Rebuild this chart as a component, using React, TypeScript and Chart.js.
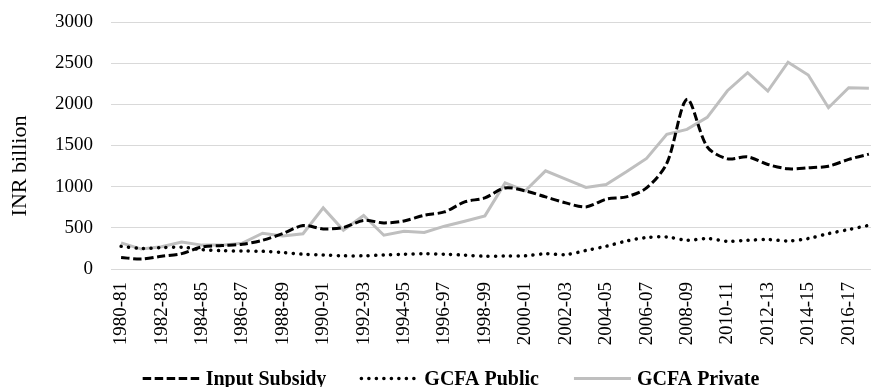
import { useEffect, useRef } from 'react';
import { Chart, registerables } from 'chart.js';

Chart.register(...registerables);

const FONT = "'Liberation Serif', 'Times New Roman', serif";

const categories = [
  '1980-81', '1981-82', '1982-83', '1983-84', '1984-85', '1985-86', '1986-87', '1987-88',
  '1988-89', '1989-90', '1990-91', '1991-92', '1992-93', '1993-94', '1994-95', '1995-96',
  '1996-97', '1997-98', '1998-99', '1999-00', '2000-01', '2001-02', '2002-03', '2003-04',
  '2004-05', '2005-06', '2006-07', '2007-08', '2008-09', '2009-10', '2010-11', '2011-12',
  '2012-13', '2013-14', '2014-15', '2015-16', '2016-17', '2017-18',
];

const inputSubsidy = [
  139, 122, 155, 187, 268, 285, 300, 349, 430, 528, 487, 504, 590, 560, 584, 653, 693, 815, 864,
  985, 949, 876, 803, 754, 848, 876, 985, 1282, 2061, 1484, 1338, 1362, 1270, 1217, 1229, 1249,
  1331, 1395,
];

const gcfaPublic = [
  275, 250, 260, 265, 235, 222, 218, 215, 200, 180, 170, 160, 160, 170, 180, 185, 180, 168, 155,
  158, 160, 185, 175, 225, 276, 340, 382, 389, 349, 370, 337, 349, 358, 341, 370, 430, 479, 530,
];

const gcfaPrivate = [
  318, 242, 270, 328, 290, 290, 314, 434, 400, 428, 742, 470, 650, 410, 459, 443, 520, 580, 645,
  1046, 949, 1192, 1091, 990, 1027, 1180, 1343, 1635, 1696, 1842, 2165, 2384, 2162, 2511, 2356,
  1959, 2202, 2195,
];

const seriesNames = ['Input Subsidy', 'GCFA Public', 'GCFA Private'];
const yAxisTitle = 'INR billion';
const yMin = 0;
const yMax = 3000;
const yStep = 500;

const overlayPlugin = {
  id: 'overlayLegendTitle',
  afterDraw(chart: any) {
    const ctx = chart.ctx as CanvasRenderingContext2D;
    ctx.save();
    ctx.font = `bold 20px ${FONT}`;
    const lineLen = 57;
    const gap = 6;
    const spacing = 35;
    const items = chart.data.datasets.map((ds: any) => ({
      ds,
      w: lineLen + gap + ctx.measureText(ds.label).width,
    }));
    const total =
      items.reduce((s: number, it: any) => s + it.w, 0) + spacing * (items.length - 1);
    let x = 451 - total / 2;
    const lineY = 378.5;
    const textY = 384.5;
    items.forEach(({ ds, w }: any) => {
      ctx.beginPath();
      ctx.setLineDash(ds.borderDash || []);
      ctx.lineCap = ds.borderCapStyle || 'butt';
      ctx.lineWidth = ds.borderWidth;
      ctx.strokeStyle = ds.borderColor;
      ctx.moveTo(x, lineY);
      ctx.lineTo(x + lineLen, lineY);
      ctx.stroke();
      ctx.setLineDash([]);
      ctx.fillStyle = '#000';
      ctx.textAlign = 'left';
      ctx.textBaseline = 'alphabetic';
      ctx.fillText(ds.label, x + lineLen + gap, textY);
      x += w + spacing;
    });
    ctx.font = `22px ${FONT}`;
    ctx.translate(20, 166);
    ctx.rotate(-Math.PI / 2);
    ctx.textAlign = 'center';
    ctx.textBaseline = 'middle';
    ctx.fillStyle = '#000';
    ctx.fillText(yAxisTitle, 0, 0);
    ctx.restore();
  },
};

export default function App() {
  const canvasRef = useRef<HTMLCanvasElement | null>(null);

  useEffect(() => {
    if (!canvasRef.current) return;
    const chart = new Chart(canvasRef.current, {
      type: 'line',
      data: {
        labels: categories,
        datasets: [
          {
            label: seriesNames[0],
            data: inputSubsidy,
            borderColor: '#000000',
            backgroundColor: '#000000',
            borderWidth: 3,
            borderDash: [8.5, 3.5],
            borderCapStyle: 'butt',
            pointRadius: 0,
            tension: 0.3,
            fill: false,
          },
          {
            label: seriesNames[1],
            data: gcfaPublic,
            borderColor: '#000000',
            backgroundColor: '#000000',
            borderWidth: 3.5,
            borderDash: [0.1, 7.4],
            borderCapStyle: 'round',
            pointRadius: 0,
            tension: 0.3,
            fill: false,
          },
          {
            label: seriesNames[2],
            data: gcfaPrivate,
            borderColor: '#bfbfbf',
            backgroundColor: '#bfbfbf',
            borderWidth: 3,
            pointRadius: 0,
            tension: 0,
            fill: false,
          },
        ],
      },
      options: {
        animation: false,
        responsive: true,
        maintainAspectRatio: false,
        layout: { padding: { top: 22, right: 1, left: 0, bottom: 0 } },
        plugins: {
          legend: { display: false },
          tooltip: { enabled: false },
        },
        scales: {
          x: {
            type: 'category',
            offset: true,
            grid: { display: false, drawTicks: true, tickLength: 13 },
            border: { display: false },
            ticks: {
              autoSkip: false,
              minRotation: 90,
              maxRotation: 90,
              padding: 0,
              color: '#000',
              font: { family: FONT, size: 19 },
              callback: (_v: any, i: number) => (i % 2 === 0 ? categories[i] : null),
            },
            afterFit: (scale: any) => {
              scale.height = 118;
            },
          },
          y: {
            min: yMin,
            max: yMax,
            grid: {
              color: '#d9d9d9',
              lineWidth: 1,
              drawTicks: true,
              tickLength: 18,
              tickColor: 'rgba(0,0,0,0)',
            },
            border: { display: false },
            ticks: {
              stepSize: yStep,
              padding: 0,
              color: '#000',
              font: { family: FONT, size: 19 },
              callback: (v: any) => String(v),
            },
            afterFit: (scale: any) => {
              scale.width = 111;
            },
          },
        },
      },
      plugins: [overlayPlugin],
    });
    return () => chart.destroy();
  }, []);

  return (
    <div
      style={{
        position: 'fixed',
        left: 0,
        top: 0,
        width: 871,
        height: 387,
        overflow: 'hidden',
        background: '#fff',
      }}
    >
      <div style={{ position: 'relative', width: 880, height: 387 }}>
        <canvas ref={canvasRef} />
      </div>
    </div>
  );
}
